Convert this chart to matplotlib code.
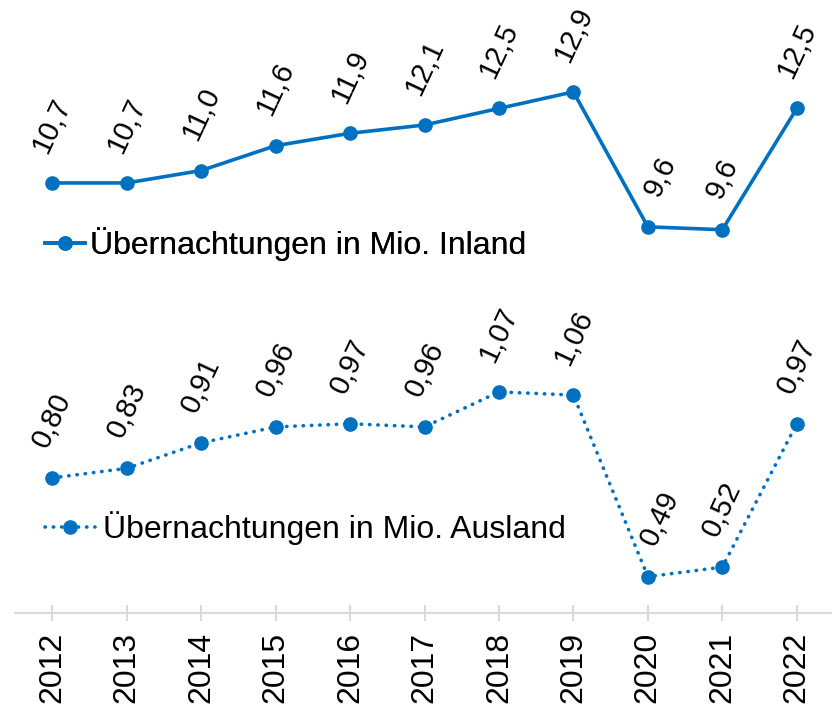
import matplotlib.pyplot as plt
import numpy as np

years = ["2012", "2013", "2014", "2015", "2016", "2017", "2018", "2019", "2020", "2021", "2022"]
inland = [10.7, 10.7, 11.0, 11.6, 11.9, 12.1, 12.5, 12.9, 9.64, 9.57, 12.5]
ausland = [0.80, 0.83, 0.91, 0.96, 0.97, 0.96, 1.07, 1.06, 0.49, 0.52, 0.97]
inland_labels = ["10,7", "10,7", "11,0", "11,6", "11,9", "12,1", "12,5", "12,9", "9,6", "9,6", "12,5"]
ausland_labels = ["0,80", "0,83", "0,91", "0,96", "0,97", "0,96", "1,07", "1,06", "0,49", "0,52", "0,97"]

plt.rcParams["font.family"] = ["Liberation Sans", "DejaVu Sans"]
blue = "#0070C0"
fs = 23
lab_fs = 21

fig = plt.figure(figsize=(8.32, 7.07), dpi=100)
ax = fig.add_axes([15 / 832, 94 / 707, 819 / 832, 613 / 707])
ax2 = ax.twinx()

x = np.arange(len(years))
l1, = ax.plot(x, inland, color=blue, lw=2.6, marker="o", ms=9.5,
              label="Übernachtungen in Mio. Inland")
l2, = ax2.plot(x, ausland, color=blue, lw=2.6, marker="o", ms=9.5,
               linestyle=(0, (0.1, 2.2)), dash_capstyle="round",
               label="Übernachtungen in Mio. Ausland")

ax.set_ylim(0.31, 15.12)
ax2.set_ylim(0.376, 2.30)
ax.set_xlim(-0.5, 10.5)

# the 2020 labels sit a little right of their point in the original
for a, vals, labs in ((ax, inland, inland_labels), (ax2, ausland, ausland_labels)):
    for xi, v, t in zip(x, vals, labs):
        dx = 9 if years[xi] == "2020" else 0
        a.annotate(t, (xi, v), xytext=(dx, 19), textcoords="offset points",
                   ha="center", va="bottom", rotation=65, fontsize=lab_fs)

for a in (ax, ax2):
    for s in ("top", "right", "left"):
        a.spines[s].set_visible(False)
    a.set_yticks([])
ax.spines["bottom"].set_color("#d9d9d9")
ax.spines["bottom"].set_linewidth(1.5)
ax2.spines["bottom"].set_visible(False)

ax.set_xticks(x)
ax.set_xticklabels(years, rotation=90, fontsize=fs)
ax.tick_params(axis="x", direction="inout", length=11, width=1.5, color="#d9d9d9", pad=8)

leg1 = ax.legend(handles=[l1], loc="center left", bbox_to_anchor=(0.037, 0.602),
                 frameon=False, fontsize=fs, handlelength=1.25, handletextpad=0.15,
                 borderaxespad=0, borderpad=0)
ax.add_artist(leg1)
leg2 = ax2.legend(handles=[l2], loc="center left", bbox_to_anchor=(0.037, 0.139),
                  frameon=False, fontsize=fs, handlelength=1.56, handletextpad=0.25,
                  borderaxespad=0, borderpad=0)

fig.savefig("out.png", dpi=100)
